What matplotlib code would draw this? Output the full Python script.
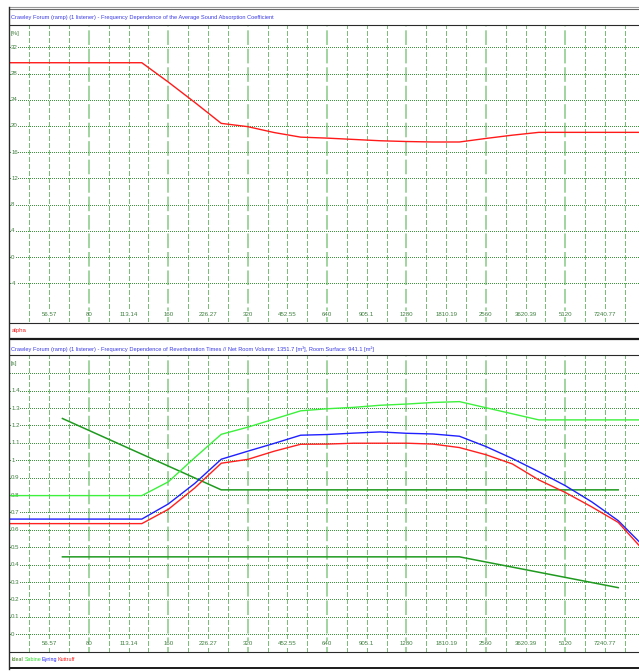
import numpy as np
import matplotlib
matplotlib.use("Agg")
import matplotlib.pyplot as plt
from matplotlib.lines import Line2D

plt.rcParams['lines.scale_dashes'] = False

# third-octave band centres (base-2 series from 40 Hz)
band_freqs = [40.0, 50.4, 63.5, 80.0, 100.8, 127.0, 160.0, 201.6, 254.0, 320.0,
              403.2, 508.0, 640.0, 806.3, 1015.9, 1280.0, 1612.7, 2031.9, 2560.0,
              3225.4, 4063.7, 5120.0, 6450.8, 8127.5, 10240.0]

# average absorption coefficient [%]
alpha = [29.65, 29.65, 29.65, 29.65, 29.65, 29.65, 26.7, 23.6, 20.4, 19.9,
         19.0, 18.3, 18.15, 17.95, 17.75, 17.63, 17.56, 17.56, 18.1,
         18.6, 19.03, 19.03, 19.03, 19.03, 19.03]

# reverberation times [s]
sabine = [0.797, 0.797, 0.797, 0.797, 0.797, 0.797, 0.876, 1.015, 1.149, 1.19,
          1.237, 1.284, 1.296, 1.304, 1.316, 1.323, 1.332, 1.337, 1.302,
          1.267, 1.232, 1.232, 1.232, 1.232, 1.232]
eyring = [0.662, 0.662, 0.662, 0.662, 0.662, 0.662, 0.749, 0.867, 1.006, 1.052,
          1.097, 1.144, 1.148, 1.156, 1.163, 1.155, 1.151, 1.138, 1.079,
          1.01, 0.934, 0.854, 0.761, 0.653, 0.50]
kuttruff = [0.636, 0.636, 0.636, 0.636, 0.636, 0.636, 0.718, 0.841, 0.983, 1.005,
            1.052, 1.092, 1.093, 1.098, 1.098, 1.098, 1.093, 1.073, 1.032,
            0.979, 0.887, 0.815, 0.732, 0.643, 0.475]

# ideal tolerance band
ideal_upper_f = [63.5, 254.0, 8127.5]
ideal_upper = [1.24, 0.83, 0.83]
ideal_lower_f = [63.5, 2031.9, 8127.5]
ideal_lower = [0.445, 0.445, 0.268]

tick_freqs = [56.57, 80, 113.14, 160, 226.27, 320, 452.55, 640, 905.1, 1280,
              1810.19, 2560, 3620.39, 5120, 7240.77, 10240]
tick_labels = ["56.57", "80", "113.14", "160", "226.27", "320", "452.55", "640",
               "905.1", "1280", "1810.19", "2560", "3620.39", "5120", "7240.77", "[Hz]"]

alpha_ticks = [-4, 0, 4, 8, 12, 16, 20, 24, 28, 32]
rt_ticks = [0, 0.1, 0.2, 0.3, 0.4, 0.5, 0.6, 0.7, 0.8, 0.9, 1.0, 1.1, 1.2, 1.3, 1.4, 1.5]
rt_labels = ["0", "0.1", "0.2", "0.3", "0.4", "0.5", "0.6", "0.7", "0.8", "0.9",
             "1", "1.1", "1.2", "1.3", "1.4", ""]

title_alpha = ("Crawley Forum (ramp) (1 listener) - Frequency Dependence of the "
               "Average Sound Absorption Coefficient")
title_rt = ("Crawley Forum (ramp) (1 listener) - Frequency Dependence of Reverberation "
            "Times // Net Room Volume: 1351.7 [m³], Room Surface: 941.1 [m²]")

FONT = ['Liberation Sans Narrow', 'Liberation Sans', 'DejaVu Sans']
TITLE_BLUE = '#3a3ae6'
LABEL_GREEN = '#3d7f3d'
SMALL = 4.4

W, H = 639, 672
fig = plt.figure(figsize=(W / 100, H / 100), dpi=100)
fig.patch.set_facecolor('white')

PX_OCT = 79.4
F0 = 40.0
N_OCT = 8.5


def fx(px):
    return px / W


def fy(py):
    return 1 - py / H


def hline(py, color='#2a2a2a', lw=1.0, x0=9):
    fig.add_artist(Line2D([fx(x0), 1.0], [fy(py), fy(py)], transform=fig.transFigure,
                          color=color, lw=lw, solid_capstyle='butt'))


def panel(top, bottom, ylim, yticks, ylabels, unit):
    ax = fig.add_axes([fx(9.5), fy(bottom), N_OCT * PX_OCT / W, (bottom - top) / H])
    ax.set_xscale('log', base=2)
    ax.set_xlim(F0, F0 * 2 ** N_OCT)
    ax.set_ylim(*ylim)
    ax.axis('off')

    # quarter-octave verticals, octaves drawn heavier
    for k in range(1, 34):
        f = F0 * 2 ** (k / 4)
        if k % 4 == 0:
            ax.axvline(f, color='#86c986', lw=1.1, dashes=(10.5, 2.8), zorder=1)
        else:
            ax.axvline(f, color='#78bd78', lw=0.72, dashes=(2.9, 2.0), zorder=1,
                       antialiased=False)

    for v, lab in zip(yticks, ylabels):
        ax.axhline(v, color='#3c963c', lw=0.6, dashes=(0.72, 1.2), zorder=1,
                   antialiased=False)
        if lab:
            ax.text(0.0024, v, lab, transform=ax.get_yaxis_transform(), ha='left',
                    va='center', fontsize=SMALL, color=LABEL_GREEN, family=FONT,
                    bbox=dict(facecolor='white', edgecolor='none', pad=0.2), zorder=2)

    ax.text(0.0024, 1 - 8 / (bottom - top), unit, transform=ax.transAxes, ha='left',
            va='center', fontsize=SMALL, color=LABEL_GREEN, family=FONT)

    for f, lab in zip(tick_freqs, tick_labels):
        ax.text(f, 8 / (bottom - top), lab, transform=ax.get_xaxis_transform(),
                ha='center', va='center', fontsize=SMALL, color=LABEL_GREEN, family=FONT,
                bbox=dict(facecolor='white', edgecolor='none', pad=0.3), zorder=2)
    return ax


# top panel: absorption coefficient
ax1 = panel(25.5, 322, (-9.9, 35.33), alpha_ticks, [str(t) for t in alpha_ticks], "[%]")
ax1.plot(band_freqs, alpha, color='#ff1a1a', lw=1.0, zorder=3)

# bottom panel: reverberation times
ax2 = panel(355.5, 651.7, (-0.1, 1.602), rt_ticks, rt_labels, "[s]")
ax2.plot(ideal_upper_f, ideal_upper, color='#1f9a1f', lw=1.1, zorder=3)
ax2.plot(ideal_lower_f, ideal_lower, color='#1f9a1f', lw=1.1, zorder=3)
ax2.plot(band_freqs, sabine, color='#3cf03c', lw=1.0, zorder=3)
ax2.plot(band_freqs, eyring, color='#2020ff', lw=1.0, zorder=3)
ax2.plot(band_freqs, kuttruff, color='#ff2020', lw=1.0, zorder=3)

# titles and legends
fig.text(fx(10.7), fy(17), title_alpha, color=TITLE_BLUE, fontsize=4.1, va='center',
         family=FONT)
fig.text(fx(10.7), fy(349), title_rt, color=TITLE_BLUE, fontsize=4.1, va='center',
         family=FONT)
fig.text(fx(11.5), fy(330.5), "alpha", color='#ff2020', fontsize=SMALL, va='center',
         family=FONT)
for x0, name, col in [(11, "Ideal", '#3a7a1a'), (24.3, "Sabine", '#2ee02e'),
                      (41.7, "Eyring", '#2020ff'), (57.7, "Kuttruff", '#ff2020')]:
    fig.text(fx(x0), fy(659.5), name, color=col, fontsize=3.9, va='center', family=FONT)

# window frame lines
hline(6.5, color='#9a9a9a', lw=0.8)
hline(8.8, color='#6a6a6a', lw=0.8)
hline(25.3, lw=0.8)
hline(322.6, lw=0.8)
hline(338.7, color='#1a1a1a', lw=1.6)
hline(355.2, lw=0.8)
hline(652.2, lw=0.8)
hline(668.3, color='#1a1a1a', lw=1.4)
fig.add_artist(Line2D([fx(9.2), fx(9.2)], [fy(6.5), fy(668.5)], transform=fig.transFigure,
                      color='#2a2a2a', lw=1.0))

fig.savefig("out.png", dpi=100, facecolor='white')
